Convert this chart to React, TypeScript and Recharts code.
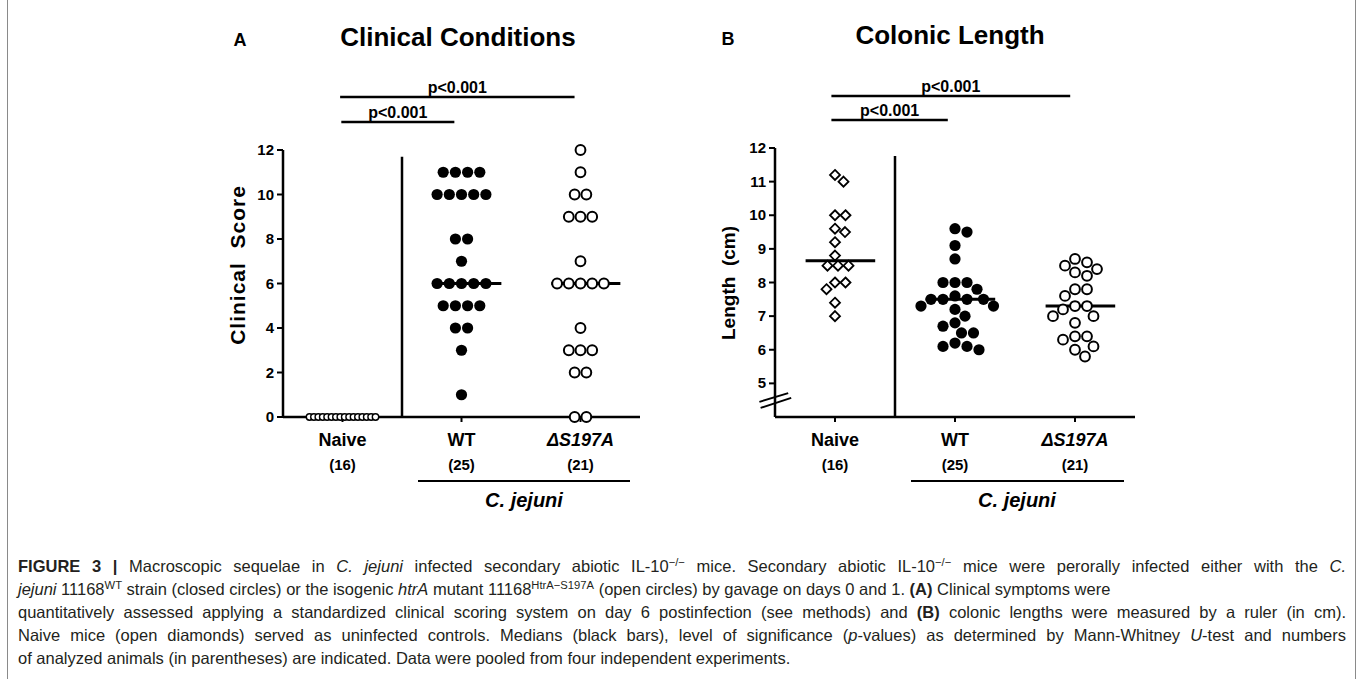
import React from "react"
import { ScatterChart, Scatter, XAxis, YAxis, ReferenceLine } from "recharts"

const GROUPS = ["Naive", "WT", "ΔS197A"]
const COUNTS = ["(16)", "(25)", "(21)"]

// panel A: clinical score
const naiveScore = [0, 0, 0, 0, 0, 0, 0, 0, 0, 0, 0, 0, 0, 0, 0, 0]
const wtScore = [11, 11, 11, 11, 10, 10, 10, 10, 10, 8, 8, 7, 6, 6, 6, 6, 6, 5, 5, 5, 5, 4, 4, 3, 1]
const mutScore = [12, 11, 10, 10, 9, 9, 9, 7, 6, 6, 6, 6, 6, 4, 3, 3, 3, 2, 2, 0, 0]
const scoreTicks = [0, 2, 4, 6, 8, 10, 12]

// panel B: colonic length (cm)
const naiveLength = [11.2, 11.0, 10.0, 10.0, 9.6, 9.5, 9.2, 8.8, 8.5, 8.5, 8.5, 8.0, 8.0, 7.8, 7.4, 7.0]
const wtLength = [9.6, 9.5, 9.1, 8.7, 8.0, 8.0, 8.0, 7.8, 7.6, 7.5, 7.5, 7.5, 7.5, 7.3, 7.3, 7.2, 7.0, 6.8, 6.7, 6.5, 6.5, 6.2, 6.1, 6.1, 6.0]
const mutLength = [8.7, 8.6, 8.5, 8.4, 8.3, 8.2, 7.8, 7.8, 7.6, 7.3, 7.3, 7.2, 7.0, 7.0, 6.8, 6.4, 6.4, 6.3, 6.1, 6.0, 5.8]
const lengthTicks = [5, 6, 7, 8, 9, 10, 11, 12]

const FONT = '"Liberation Sans", Arial, Helvetica, sans-serif'

function median(values: number[]) {
  const s = [...values].sort((a, b) => a - b)
  const m = Math.floor(s.length / 2)
  return s.length % 2 ? s[m] : (s[m - 1] + s[m]) / 2
}

// equal values side by side, centred on the column
function rows(values: number[], cat: number, gap: number, pxX: number) {
  const counts = new Map<number, number>()
  values.forEach(v => counts.set(v, (counts.get(v) ?? 0) + 1))
  const seen = new Map<number, number>()
  return values.map(v => {
    const n = counts.get(v)!
    const i = seen.get(v) ?? 0
    seen.set(v, i + 1)
    return { x: cat + ((i - (n - 1) / 2) * gap) / pxX, y: v }
  })
}

// simple beeswarm so markers don't overlap
function swarm(values: number[], cat: number, d: number, pxX: number, pxY: number) {
  const placed: { x: number; y: number }[] = []
  return [...values].sort((a, b) => b - a).map(v => {
    const py = v * pxY
    let best = 0
    for (let k = 0; k < 400; k++) {
      const cands = k === 0 ? [0] : [k * 0.5, -k * 0.5]
      const ok = cands.find(c => placed.every(p => (p.x - c) ** 2 + (p.y - py) ** 2 >= d * d))
      if (ok !== undefined) { best = ok; break }
    }
    placed.push({ x: best, y: py })
    return { x: cat + best / pxX, y: v }
  })
}

const smallRing = (p: any) => <circle cx={p.cx} cy={p.cy} r={3.2} fill="#fff" stroke="#000" strokeWidth={1.4} />
const dot = (p: any) => <circle cx={p.cx} cy={p.cy} r={5.6} fill="#000" />
const ring = (p: any) => <circle cx={p.cx} cy={p.cy} r={4.9} fill="#fff" stroke="#000" strokeWidth={2} />
const diamond = (p: any) => (
  <path d={`M${p.cx},${p.cy - 5} L${p.cx + 5},${p.cy} L${p.cx},${p.cy + 5} L${p.cx - 5},${p.cy} Z`} fill="#fff" stroke="#000" strokeWidth={1.8} />
)

const GroupTick = ({ x, y, payload }: any) => {
  const i = payload.value - 1
  return (
    <g fontFamily={FONT} fontWeight="bold" fill="#000" textAnchor="middle">
      <text x={x} y={y + 22} fontSize={18} fontStyle={i === 2 ? "italic" : "normal"}>{GROUPS[i]}</text>
      <text x={x} y={y + 46} fontSize={15}>{COUNTS[i]}</text>
    </g>
  )
}

const ValueTick = ({ x, y, payload }: any) => (
  <text x={x} y={y} dy={5} textAnchor="end" fontFamily={FONT} fontWeight="bold" fontSize={15} fill="#000">
    {payload.value}
  </text>
)

const axisStyle = { stroke: "#000", strokeWidth: 2.5 }

interface Bracket { from: number; to: number; y: number }
interface PanelProps {
  left: number
  width: number
  margin: { top: number; right: number; bottom: number; left: number }
  yDomain: [number, number]
  yTicks: number[]
  series: { data: { x: number; y: number }[]; shape: any }[]
  medians: { cat: number; value: number }[]
  brackets: Bracket[]
  sepTop: number
  breakMarks?: { x1: number; y1: number; x2: number; y2: number }[]
}

function Panel({ left, width, margin, yDomain, yTicks, series, medians, brackets, sepTop, breakMarks }: PanelProps) {
  return (
    <div style={{ position: "absolute", left, top: 0 }}>
      <ScatterChart width={width} height={530} margin={margin} style={{ overflow: "visible" }}>
        <XAxis type="number" dataKey="x" domain={[0.5, 3.5]} ticks={[1, 2, 3]} interval={0}
          height={60} tickSize={5} tick={<GroupTick />} axisLine={axisStyle} tickLine={{ stroke: "#000", strokeWidth: 2 }} />
        <YAxis type="number" dataKey="y" domain={yDomain} ticks={yTicks} interval={0}
          width={40} tickSize={6} tickMargin={3} tick={<ValueTick />} axisLine={axisStyle} tickLine={{ stroke: "#000", strokeWidth: 2 }} />
        {series.map((s, i) => (
          <Scatter key={i} data={s.data} shape={s.shape} isAnimationActive={false} />
        ))}
        <ReferenceLine segment={[{ x: 1.5, y: sepTop }, { x: 1.5, y: yDomain[0] }]} stroke="#000" strokeWidth={2.5} ifOverflow="visible" />
        {medians.map((m, i) => (
          <ReferenceLine key={"m" + i} segment={[{ x: m.cat - 0.245, y: m.value }, { x: m.cat + 0.335, y: m.value }]}
            stroke="#000" strokeWidth={3} ifOverflow="visible" />
        ))}
        {brackets.map((b, i) => (
          <ReferenceLine key={"b" + i} segment={[{ x: b.from, y: b.y }, { x: b.to, y: b.y }]} stroke="#000" strokeWidth={2.5}
            ifOverflow="visible"
            label={{ value: "p<0.001", position: "top", offset: 4, fill: "#000", fontSize: 16, fontWeight: "bold", fontFamily: FONT }} />
        ))}
        {(breakMarks ?? []).map((k, i) => (
          <ReferenceLine key={"k" + i} segment={[{ x: k.x1, y: k.y1 }, { x: k.x2, y: k.y2 }]} stroke="#000" strokeWidth={2} ifOverflow="visible" />
        ))}
      </ScatterChart>
    </div>
  )
}

const sup = { fontSize: "0.68em", verticalAlign: "super", lineHeight: 0 } as const
const full = { width: 1328, textAlign: "justify", textAlignLast: "justify" } as const

export default function App() {
  const pxA = 357 / 3
  const pxB = 360 / 3
  const pxYB = 269 / 8

  const seriesA = [
    { data: rows(naiveScore, 1, 4.4, pxA), shape: smallRing },
    { data: rows(wtScore, 2, 12.2, pxA), shape: dot },
    { data: rows(mutScore, 3, 11.7, pxA), shape: ring },
  ]
  const seriesB = [
    { data: swarm(naiveLength, 1, 10.5, pxB, pxYB), shape: diamond },
    { data: swarm(wtLength, 2, 12, pxB, pxYB), shape: dot },
    { data: swarm(mutLength, 3, 12, pxB, pxYB), shape: ring },
  ]

  return (
    <div style={{ position: "absolute", left: 0, top: 0, width: 1358, height: 679, background: "#fff", overflow: "hidden" }}>
      <Panel
        left={200} width={460} margin={{ top: 150, right: 20, bottom: 53, left: 43 }}
        yDomain={[0, 12]} yTicks={scoreTicks} series={seriesA}
        medians={[{ cat: 2, value: median(wtScore) }, { cat: 3, value: median(mutScore) }]}
        brackets={[{ from: 0.98, to: 2.95, y: 14.38 }, { from: 0.99, to: 1.94, y: 13.26 }]}
        sepTop={11.7}
      />
      <Panel
        left={690} width={470} margin={{ top: 148, right: 25, bottom: 53, left: 45 }}
        yDomain={[4, 12]} yTicks={lengthTicks} series={seriesB}
        medians={[{ cat: 1, value: median(naiveLength) }, { cat: 2, value: median(wtLength) }, { cat: 3, value: median(mutLength) }]}
        brackets={[{ from: 0.97, to: 2.96, y: 13.55 }, { from: 0.97, to: 1.94, y: 12.83 }]}
        sepTop={11.76}
        breakMarks={[{ x1: 0.37, y1: 4.45, x2: 0.61, y2: 4.71 }, { x1: 0.38, y1: 4.27, x2: 0.635, y2: 4.57 }]}
      />

      {/* titles, axis titles, group label */}
      <svg width={1358} height={530} style={{ position: "absolute", left: 0, top: 0, pointerEvents: "none" }}
        fontFamily={FONT} fontWeight="bold" fill="#000">
        <text x={240} y={46} fontSize={18} textAnchor="middle">A</text>
        <text x={458} y={46} fontSize={26} textAnchor="middle">Clinical Conditions</text>
        <text x={728} y={45} fontSize={18} textAnchor="middle">B</text>
        <text x={950} y={44} fontSize={26} textAnchor="middle">Colonic Length</text>
        <text transform="translate(245,265) rotate(-90)" fontSize={21} textAnchor="middle" letterSpacing={1} style={{ whiteSpace: "pre" }}>{"Clinical  Score"}</text>
        <text transform="translate(735,283) rotate(-90)" fontSize={19} textAnchor="middle" style={{ whiteSpace: "pre" }}>{"Length  (cm)"}</text>
        <line x1={418} x2={630} y1={481} y2={481} stroke="#000" strokeWidth={2.2} />
        <text x={524} y={507} fontSize={20} fontStyle="italic" textAnchor="middle">C. jejuni</text>
        <line x1={911} x2={1124} y1={481} y2={481} stroke="#000" strokeWidth={2.2} />
        <text x={1017} y={507} fontSize={20} fontStyle="italic" textAnchor="middle">C. jejuni</text>
      </svg>

      {/* frame */}
      <div style={{ position: "absolute", left: 7, top: 0, width: 1, height: 679, background: "#8a8a8a" }} />
      <div style={{ position: "absolute", left: 1355, top: 0, width: 1, height: 679, background: "#8a8a8a" }} />

      {/* caption */}
      <div style={{ position: "absolute", left: 18, top: 555, fontFamily: FONT, fontSize: 16.5, lineHeight: "23px", color: "#231f20", whiteSpace: "nowrap" }}>
        <div style={full}><b>FIGURE 3 |</b> Macroscopic sequelae in <i>C. jejuni</i> infected secondary abiotic IL-10<span style={sup}>−/−</span> mice. Secondary abiotic IL-10<span style={sup}>−/−</span> mice were perorally infected either with the <i>C.</i></div>
        <div><i>jejuni</i> 11168<span style={sup}>WT</span> strain (closed circles) or the isogenic <i>htrA</i> mutant 11168<span style={sup}>HtrA−S197A</span> (open circles) by gavage on days 0 and 1. <b>(A)</b> Clinical symptoms were</div>
        <div style={full}>quantitatively assessed applying a standardized clinical scoring system on day 6 postinfection (see methods) and <b>(B)</b> colonic lengths were measured by a ruler (in cm).</div>
        <div style={full}>Naive mice (open diamonds) served as uninfected controls. Medians (black bars), level of significance (<i>p</i>-values) as determined by Mann-Whitney <i>U</i>-test and numbers</div>
        <div>of analyzed animals (in parentheses) are indicated. Data were pooled from four independent experiments.</div>
      </div>
    </div>
  )
}
